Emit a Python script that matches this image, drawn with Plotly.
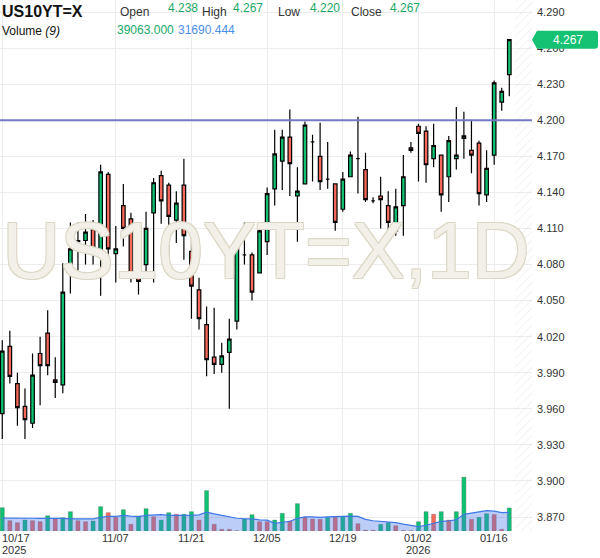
import plotly.graph_objects as go

# ---------------- data ----------------
dates = [
    "2025-10-17", "2025-10-20", "2025-10-21", "2025-10-22", "2025-10-23", "2025-10-24",
    "2025-10-27", "2025-10-28", "2025-10-29", "2025-10-30", "2025-10-31",
    "2025-11-03", "2025-11-04", "2025-11-05", "2025-11-06", "2025-11-07",
    "2025-11-10", "2025-11-11", "2025-11-12", "2025-11-13", "2025-11-14",
    "2025-11-17", "2025-11-18", "2025-11-19", "2025-11-20", "2025-11-21",
    "2025-11-24", "2025-11-25", "2025-11-26", "2025-11-27", "2025-11-28",
    "2025-12-01", "2025-12-02", "2025-12-03", "2025-12-04", "2025-12-05",
    "2025-12-08", "2025-12-09", "2025-12-10", "2025-12-11", "2025-12-12",
    "2025-12-15", "2025-12-16", "2025-12-17", "2025-12-18", "2025-12-19",
    "2025-12-22", "2025-12-23", "2025-12-24", "2025-12-25", "2025-12-26",
    "2025-12-29", "2025-12-30", "2025-12-31", "2026-01-01", "2026-01-02",
    "2026-01-05", "2026-01-06", "2026-01-07", "2026-01-08", "2026-01-09",
    "2026-01-12", "2026-01-13", "2026-01-14", "2026-01-15", "2026-01-16",
    "2026-01-19", "2026-01-20",
]

open_ = [
    3.956, 4.012, 3.981, 3.962, 3.948, 4.006, 4.023, 3.984, 3.980, 4.074,
    4.099, 4.100, 4.109, 4.086, 4.155, 4.089, 4.129, 4.118, 4.069, 4.080,
    4.123, 4.154, 4.146, 4.117, 4.146, 4.091, 4.059, 4.030, 4.003, 3.997,
    4.007, 4.033, 4.088, 4.088, 4.073, 4.099, 4.143, 4.166, 4.186, 4.137,
    4.147, 4.182, 4.170, 4.151, 4.147, 4.126, 4.153, 4.168, 4.159, 4.133,
    4.137, 4.129, 4.108, 4.129, 4.177, 4.195, 4.191, 4.168, 4.171, 4.153,
    4.168, 4.185, 4.175, 4.181, 4.138, 4.171, 4.215, 4.238,
]
high = [
    4.017, 4.025, 3.990, 3.977, 4.006, 4.020, 4.042, 4.003, 4.081, 4.115,
    4.115, 4.122, 4.117, 4.163, 4.157, 4.112, 4.147, 4.123, 4.094, 4.124,
    4.152, 4.158, 4.148, 4.141, 4.168, 4.102, 4.069, 4.045, 4.044, 4.015,
    4.035, 4.098, 4.115, 4.090, 4.114, 4.144, 4.192, 4.192, 4.209, 4.161,
    4.199, 4.188, 4.198, 4.182, 4.147, 4.157, 4.174, 4.203, 4.173, 4.136,
    4.153, 4.141, 4.143, 4.171, 4.182, 4.197, 4.195, 4.197, 4.171, 4.187,
    4.211, 4.207, 4.200, 4.183, 4.175, 4.233, 4.227, 4.267,
]
low = [
    3.935, 3.981, 3.946, 3.935, 3.944, 3.963, 3.988, 3.969, 3.973, 4.056,
    4.075, 4.080, 4.080, 4.054, 4.076, 4.065, 4.095, 4.065, 4.055, 4.070,
    4.065, 4.114, 4.084, 4.098, 4.084, 4.035, 4.026, 3.987, 3.989, 3.990,
    3.960, 4.026, 4.080, 4.050, 4.073, 4.088, 4.129, 4.142, 4.137, 4.099,
    4.147, 4.149, 4.142, 4.143, 4.108, 4.124, 4.153, 4.139, 4.132, 4.131,
    4.110, 4.104, 4.104, 4.104, 4.173, 4.149, 4.148, 4.161, 4.124, 4.132,
    4.159, 4.168, 4.156, 4.129, 4.132, 4.163, 4.208, 4.220,
]
close = [
    4.008, 3.987, 3.961, 3.951, 3.988, 3.996, 3.996, 3.982, 4.057, 4.093,
    4.100, 4.107, 4.090, 4.157, 4.093, 4.093, 4.110, 4.069, 4.066, 4.110,
    4.148, 4.133, 4.120, 4.131, 4.104, 4.062, 4.035, 4.001, 3.997, 4.004,
    4.018, 4.095, 4.088, 4.057, 4.108, 4.139, 4.172, 4.186, 4.164, 4.141,
    4.196, 4.182, 4.149, 4.151, 4.115, 4.151, 4.171, 4.168, 4.134, 4.133,
    4.134, 4.115, 4.128, 4.153, 4.175, 4.189, 4.163, 4.179, 4.138, 4.183,
    4.171, 4.187, 4.171, 4.139, 4.160, 4.231, 4.224, 4.267,
]
volume = [
    39600, 17500, 14100, 18700, 17500, 15800, 26000, 20400, 22600, 32800,
    17500, 15800, 17000, 41300, 31100, 23300, 36200, 11400, 25500, 37900,
    24300, 18700, 31100, 28400, 28400, 32800, 18700, 68500, 11400, 2900,
    2900, 500, 20400, 27700, 15800, 15800, 18700, 30000, 17000, 46400,
    23300, 20400, 19900, 23300, 23300, 24300, 30000, 12400, 1500, 1500,
    11400, 14100, 9000, 1000, 500, 15800, 32800, 28400, 32800, 18700,
    32800, 91300, 19900, 23300, 29400, 27851, 2900, 39063,
]
# volume bar direction as shown (1 = up colour, -1 = down colour)
volume_dir = [
    1, -1, -1, 1, -1, -1, 1, -1, 1, 1,
    -1, -1, 1, 1, -1, -1, 1, -1, 1, 1,
    -1, 1, 1, -1, 1, 1, -1, 1, -1, -1,
    -1, -1, 1, 1, -1, -1, 1, 1, -1, 1,
    -1, -1, -1, 1, -1, 1, 1, -1, -1, -1,
    1, 1, -1, -1, -1, 1, 1, -1, 1, -1,
    1, 1, -1, 1, 1, -1, -1, 1,
]
# 9-day volume average for the first days (window starts before the visible range)
vol_ma_head = [21800, 22000, 21900, 21700, 21600, 21500, 21600, 21500]
vol_ma_period = 9

tick_dates = ["2025-10-17", "2025-11-07", "2025-11-21", "2025-12-05",
              "2025-12-19", "2026-01-02", "2026-01-16"]
tick_text = ["10/17", "11/07", "11/21", "12/05", "12/19", "01/02", "01/16"]
year_text = {"2025-10-17": "2025", "2026-01-02": "2026"}
price_ticks = [3.870, 3.900, 3.930, 3.960, 3.990, 4.020, 4.050, 4.080, 4.110,
               4.140, 4.170, 4.200, 4.230, 4.260, 4.290]
hline_level = 4.200
symbol = "US10YT=X"
watermark = "US10YT=X,1D"

# ---------------- derived ----------------
n = len(dates)
idx = list(range(n))
vol_ma = []
for i in range(n):
    if i < vol_ma_period - 1:
        vol_ma.append(vol_ma_head[i])
    else:
        w = volume[i - vol_ma_period + 1:i + 1]
        vol_ma.append(sum(w) / len(w))

GREEN = "#10c171"
RED = "#f6695a"
vol_colors = [GREEN if d > 0 else RED for d in volume_dir]

W, H = 600, 558
plot_right = 532
plot_bottom = 531
x_range = [-0.3, 70.0]
y_range = [3.8584, 4.300]
vol_range = [0, 900000]
FONT = "Liberation Sans, Arial, sans-serif"

fig = go.Figure()

# future (hatched) area
hx0 = n - 0.25
fig.add_trace(go.Scatter(
    x=[hx0, x_range[1], x_range[1], hx0, hx0],
    y=[y_range[0], y_range[0], y_range[1], y_range[1], y_range[0]],
    mode="lines", line=dict(width=0), fill="toself",
    fillcolor="rgba(0,0,0,0)",
    fillpattern=dict(shape="/", fgcolor="#d9d9d9", bgcolor="rgba(0,0,0,0)",
                     size=6, solidity=0.15),
    hoverinfo="skip", showlegend=False, xaxis="x", yaxis="y"))

# watermark
fig.add_trace(go.Scatter(
    x=[(x_range[0] + x_range[1]) / 2],
    y=[y_range[1] - 0.486 * (y_range[1] - y_range[0])],
    mode="text", text=[watermark],
    textfont=dict(size=80, color="#f2f0e8", family=FONT,
                  shadow="-1px -1px 0 #dcd7c6, 1px -1px 0 #dcd7c6, -1px 1px 0 #dcd7c6, 1px 1px 0 #dcd7c6"),
    hoverinfo="skip", showlegend=False, xaxis="x", yaxis="y"))

# candles
fig.add_trace(go.Candlestick(
    x=idx, open=open_, high=high, low=low, close=close,
    increasing=dict(fillcolor=GREEN, line=dict(color="#000000", width=1.2)),
    decreasing=dict(fillcolor=RED, line=dict(color="#000000", width=1.2)),
    whiskerwidth=0, hoverinfo="skip", showlegend=False, xaxis="x", yaxis="y"))

# volume underlay
fig.add_trace(go.Bar(
    x=idx, y=volume, marker=dict(color=vol_colors,
                                 line=dict(color="rgba(90,90,90,0.45)", width=0.6)),
    width=0.55, hoverinfo="skip", showlegend=False, xaxis="x", yaxis="y2"))
fig.add_trace(go.Scatter(
    x=idx, y=vol_ma, mode="lines", line=dict(color="#3d78e6", width=1.2),
    fill="tozeroy", fillcolor="rgba(70,120,235,0.36)",
    hoverinfo="skip", showlegend=False, xaxis="x", yaxis="y2"))

tick_idx = [dates.index(d) for d in tick_dates]

fig.update_layout(
    width=W, height=H, margin=dict(l=0, r=0, t=0, b=0),
    paper_bgcolor="white", plot_bgcolor="white",
    font=dict(family=FONT, size=11, color="#333333"),
    showlegend=False, boxgap=0.33,
    xaxis=dict(domain=[0, plot_right / W], range=x_range, tickvals=tick_idx,
               showticklabels=False, showgrid=True, gridcolor="#ececec",
               gridwidth=1, zeroline=False, showline=False, ticks="",
               rangeslider=dict(visible=False), fixedrange=True),
    yaxis=dict(domain=[1 - plot_bottom / H, 1], range=y_range, side="right",
               tickvals=price_ticks, tickformat=".3f", showgrid=True,
               gridcolor="#ececec", gridwidth=1, zeroline=False, showline=False,
               ticks="", ticklabelstandoff=4,
               tickfont=dict(size=11, color="#333333", family=FONT)),
    yaxis2=dict(overlaying="y", range=vol_range, visible=False, showgrid=False),
)

# horizontal drawn line
fig.add_shape(type="line", xref="paper", yref="y", x0=0, x1=plot_right / W,
              y0=hline_level, y1=hline_level,
              line=dict(color="#7479c4", width=2), layer="above")

# current price tag
fig.add_shape(type="path", xref="paper", yref="y",
              xsizemode="pixel", ysizemode="pixel",
              xanchor=plot_right / W, yanchor=close[-1],
              path="M 0,0 L 5,9 L 63,9 Q 66,9 66,6 L 66,-6 Q 66,-9 63,-9 L 5,-9 Z",
              fillcolor="#15c172", line=dict(width=0), layer="above")
annotations = [dict(xref="paper", yref="y", x=(plot_right + 36) / W, y=close[-1],
                    text=f"{close[-1]:.3f}", showarrow=False, xanchor="center",
                    yanchor="middle", font=dict(size=12, color="white", family=FONT))]

# x axis labels
for d, t in zip(tick_dates, tick_text):
    i = dates.index(d)
    anchor = "left" if i == 0 else "center"
    xx = i - 0.3 if i == 0 else i
    annotations.append(dict(xref="x", yref="paper", x=xx, y=1 - 538 / H, text=t,
                            showarrow=False, xanchor=anchor, yanchor="middle",
                            font=dict(size=11, color="#333333", family=FONT)))
    if d in year_text:
        annotations.append(dict(xref="x", yref="paper", x=xx, y=1 - 550 / H,
                                text=year_text[d], showarrow=False, xanchor=anchor,
                                yanchor="middle",
                                font=dict(size=11, color="#333333", family=FONT)))

# header
HG = "#1aa866"
def hdr(px, py, text, size=12, color="#333333", bold=False):
    annotations.append(dict(xref="paper", yref="paper", x=px / W, y=1 - py / H,
                            text=f"<b>{text}</b>" if bold else text, showarrow=False,
                            xanchor="left", yanchor="middle",
                            font=dict(size=size, color=color, family=FONT)))

hdr(0, 11, symbol, size=16, color="#111111", bold=True)
hdr(118, 12, "Open")
hdr(166, 8, f"{open_[-1]:.3f}", color=HG)
hdr(200, 12, "High")
hdr(231, 8, f"{high[-1]:.3f}", color=HG)
hdr(276, 12, "Low")
hdr(308, 8, f"{low[-1]:.3f}", color=HG)
hdr(349, 12, "Close")
hdr(388, 8, f"{close[-1]:.3f}", color=HG)
hdr(0, 31, "Volume <i>(9)</i>", color="#111111")
hdr(115, 30, f"{volume[-1]:.3f}", color=HG)
hdr(176, 30, f"{vol_ma[-1]:.3f}", color="#4a8fe8")

fig.update_layout(annotations=annotations)
fig.write_html(
    "out.html",
    config={"displayModeBar": False, "staticPlot": True},
    post_script="document.body.style.margin='0';document.body.style.padding='0';"
                "document.body.style.overflow='hidden';",
)
